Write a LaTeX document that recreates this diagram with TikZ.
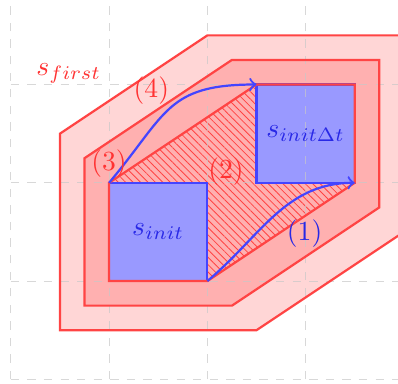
\documentclass[tikz,border=0pt]{standalone}
\usetikzlibrary{patterns.meta}
\definecolor{rline}{RGB}{255,68,68}
\definecolor{rfillA}{RGB}{255,214,214}
\definecolor{rfillB}{RGB}{255,176,176}
\definecolor{bfill}{RGB}{153,153,255}
\definecolor{bline}{RGB}{68,68,255}
\definecolor{btext}{RGB}{40,40,230}
\definecolor{rtext}{RGB}{255,50,50}
\definecolor{gridc}{RGB}{200,200,200}
\begin{document}
\begin{tikzpicture}[x=1.25cm,y=1.25cm,
  rborder/.style={draw=rline, line width=0.8pt, line join=miter},
  sq/.style={fill=bfill, minimum size=1.25cm, inner sep=0pt, outer sep=0pt, anchor=south west},
  sqborder/.style={draw=bline, line width=0.8pt},
  traj/.style={draw=bline, line width=0.8pt, ->},
  rlab/.style={text=rtext},
  blab/.style={text=btext}]
\useasboundingbox (-0.11,-0.04) rectangle (3.94,3.86);
\begin{scope}
\clip (-0.11,-0.04) rectangle (3.94,3.86);
% region outlines (paths reused)
\coordinate (o1) at (0.5,0.5);  \coordinate (o2) at (2.5,0.5);  \coordinate (o3) at (4,1.5);
\coordinate (o4) at (4,3.5);    \coordinate (o5) at (2,3.5);    \coordinate (o6) at (0.5,2.5);
\coordinate (m1) at (0.75,0.75);\coordinate (m2) at (2.25,0.75);\coordinate (m3) at (3.75,1.75);
\coordinate (m4) at (3.75,3.25);\coordinate (m5) at (2.25,3.25);\coordinate (m6) at (0.75,2.25);
\coordinate (h1) at (1,1);      \coordinate (h2) at (2,1);      \coordinate (h3) at (3.5,2);
\coordinate (h4) at (3.5,3);    \coordinate (h5) at (2.5,3);    \coordinate (h6) at (1,2);
% fills
\fill[rfillA] (o1) -- (o2) -- (o3) -- (o4) -- (o5) -- (o6) -- cycle;
\fill[rfillB] (m1) -- (m2) -- (m3) -- (m4) -- (m5) -- (m6) -- cycle;
\fill[pattern={Lines[angle=-45,distance=1.9pt,line width=0.3pt]}, pattern color=rline]
  (h1) -- (h2) -- (h3) -- (h4) -- (h5) -- (h6) -- cycle;
\node[sq] (sinit) at (h1) {};
\node[sq] (sdt) at (2.5,2) {};
% grid
\draw[gridc, opacity=0.7, dashed, line width=0.4pt, step={(1,1)}] (0,0) grid (4.5,4.5);
% borders
\draw[rborder] (o1) -- (o2) -- (o3) -- (o4) -- (o5) -- (o6) -- cycle;
\draw[rborder] (m1) -- (m2) -- (m3) -- (m4) -- (m5) -- (m6) -- cycle;
\draw[sqborder] (sinit.south west) rectangle (sinit.north east);
\draw[sqborder] (sdt.south west) rectangle (sdt.north east);
\draw[rborder] (h1) -- (h2) -- (h3) -- (h4) -- (h5) -- (h6) -- cycle;
% trajectories
\draw[traj] (sinit.north west) to[out=50,in=180,looseness=1.3] (sdt.north west);
\draw[traj] (sinit.south east) to[out=40,in=180] (sdt.south east);
\end{scope}
% labels
\node[blab] (linit) at (sinit.center) {$s_{init}$};
\node[blab] (ldt) at (sdt.center) {$s_{init\Delta t}$};
\node[rlab] (lfirst) at (0.59,3.11) {$s_{first}$};
\node[blab] (l1) at (2.99,1.48) {(1)};
\node[rlab] (l2) at (2.19,2.11) {(2)};
\node[rlab] (l3) at (1.0,2.2) {(3)};
\node[rlab] (l4) at (1.43,2.94) {(4)};
\end{tikzpicture}
\end{document}
